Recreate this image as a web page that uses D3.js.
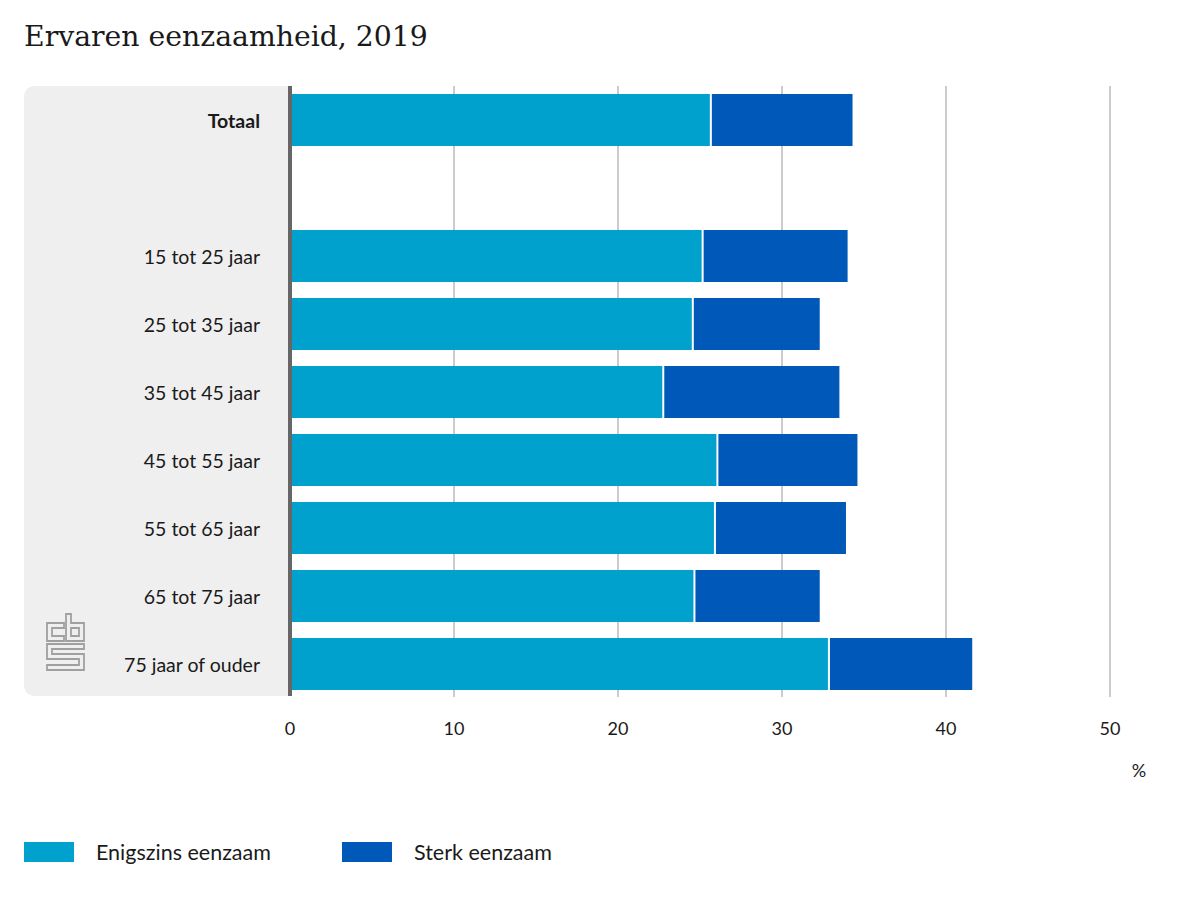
<!DOCTYPE html>
<html>
<head>
<meta charset="utf-8">
<script src="https://cdn.jsdelivr.net/npm/d3@7"></script>
<style>
	body { margin: 0; background: #fff; }
	text { font-family: Lato, "Noto Sans", sans-serif; fill: #1a1a1a; }
</style>
</head>
<body>
<svg id="chart" width="1200" height="900"></svg>
<script>
"use strict";

// Data
const categories = ["Totaal", "gap", "15 tot 25 jaar", "25 tot 35 jaar", "35 tot 45 jaar",
	"45 tot 55 jaar", "55 tot 65 jaar", "65 tot 75 jaar", "75 jaar of ouder"];
const enigszins = [25.6, null, 25.1, 24.5, 22.7, 26.0, 25.85, 24.6, 32.8];
const sterk = [8.7, null, 8.9, 7.8, 10.8, 8.6, 8.05, 7.7, 8.8];
const xTicks = [0, 10, 20, 30, 40, 50];
const seriesNames = ["Enigszins eenzaam", "Sterk eenzaam"];
const colors = ["#00a1cd", "#0058b8"];

const svg = d3.select("#chart");

// Scales
const x = d3.scaleLinear().domain([0, 50]).range([290, 1110]);
const y = d3.scaleBand()
	.domain(categories)
	.range([86, 698])
	.paddingInner(16 / 68)
	.paddingOuter(8 / 68);

// Title
svg.append("text")
	.attr("x", 24)
	.attr("y", 46)
	.style("font-family", "'DejaVu Serif', serif")
	.style("font-size", "28.3px")
	.text("Ervaren eenzaamheid, 2019");

// Grey label panel
svg.append("path")
	.attr("d", "M290,86 H36 Q24,86 24,98 V684 Q24,696 36,696 H290 Z")
	.attr("fill", "#efefef");

// CBS logo
const logo = svg.append("g")
	.attr("fill", "none")
	.attr("stroke", "#a0a0a0")
	.attr("stroke-width", 1.8);
logo.append("path").attr("d", "M64,623 H47 V641 H64 V636 H52 V628 H64 Z");
logo.append("path").attr("d", "M66,614 H71 V623 H84 V641 H66 Z M71,628 H79 V636 H71 Z");
logo.append("path").attr("d", "M84,644 H47 V659 H79 V665 H47 V670 H84 V654 H52 V649 H84 Z");

// Gridlines
svg.append("g")
	.selectAll("line")
	.data(xTicks.filter(d => d > 0))
	.enter()
	.append("line")
	.attr("x1", d => x(d))
	.attr("x2", d => x(d))
	.attr("y1", 86)
	.attr("y2", 697)
	.attr("stroke", "#cccccc")
	.attr("stroke-width", 2);

// Bars
const rows = categories.map(function(c, i) {
	return { cat: c, a: enigszins[i], b: sterk[i] };
}).filter(d => d.a !== null);

const barG = svg.append("g");
barG.selectAll("rect.enig")
	.data(rows)
	.enter()
	.append("rect")
	.attr("class", "enig")
	.attr("x", x(0))
	.attr("y", d => y(d.cat))
	.attr("width", d => x(d.a) - x(0))
	.attr("height", y.bandwidth())
	.attr("fill", colors[0]);

barG.selectAll("rect.sterk")
	.data(rows)
	.enter()
	.append("rect")
	.attr("class", "sterk")
	.attr("x", d => x(d.a) + 2)
	.attr("y", d => y(d.cat))
	.attr("width", d => x(d.a + d.b) - x(d.a) - 2)
	.attr("height", y.bandwidth())
	.attr("fill", colors[1]);

// Zero axis line
svg.append("line")
	.attr("x1", x(0))
	.attr("x2", x(0))
	.attr("y1", 86)
	.attr("y2", 696)
	.attr("stroke", "#666666")
	.attr("stroke-width", 4);

// Category labels
svg.append("g")
	.selectAll("text")
	.data(rows)
	.enter()
	.append("text")
	.attr("x", 260)
	.attr("y", d => y(d.cat) + y.bandwidth() / 2 + 8)
	.attr("text-anchor", "end")
	.style("font-size", "19.5px")
	.style("font-weight", d => d.cat == "Totaal" ? "bold" : "normal")
	.text(d => d.cat);

// Tick labels
svg.append("g")
	.selectAll("text")
	.data(xTicks)
	.enter()
	.append("text")
	.attr("x", d => x(d))
	.attr("y", 735)
	.attr("text-anchor", "middle")
	.style("font-size", "18px")
	.text(d => d);

svg.append("text")
	.attr("x", 1139)
	.attr("y", 777)
	.attr("text-anchor", "middle")
	.style("font-size", "18px")
	.text("%");

// Legend
const legend = svg.append("g")
	.selectAll("g")
	.data(seriesNames)
	.enter()
	.append("g")
	.attr("transform", (d, i) => "translate(" + (24 + i * 318) + ",842)");

legend.append("rect")
	.attr("width", 50)
	.attr("height", 20)
	.attr("fill", (d, i) => colors[i]);

legend.append("text")
	.attr("x", 72)
	.attr("y", 18)
	.style("font-size", "21.5px")
	.text(d => d);
</script>
</body>
</html>
